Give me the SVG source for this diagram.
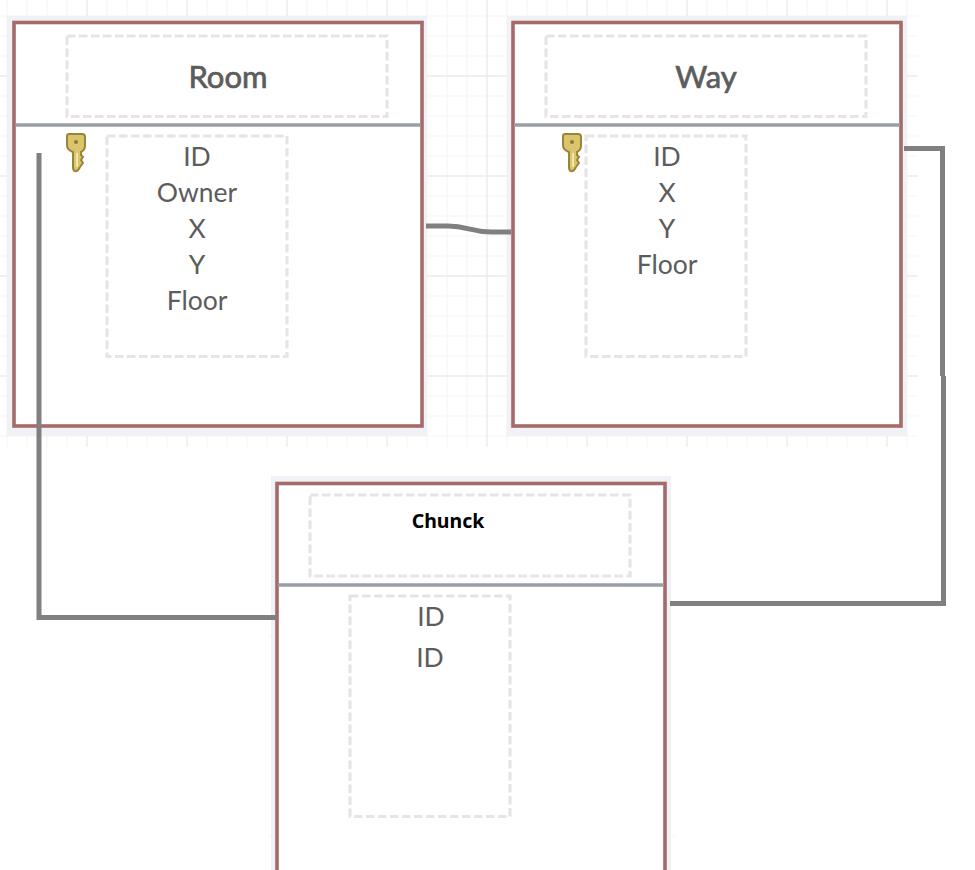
<svg xmlns="http://www.w3.org/2000/svg" width="975" height="870" viewBox="0 0 975 870">
<style>
.minor{fill:none;stroke:#f6f6f6;stroke-width:1.2}
.major{fill:none;stroke:#ebebeb;stroke-width:1.4}
.halo{fill:#f0f2f5}
.box{fill:#fff;stroke:#a56a6a;stroke-width:3.6}
.sep{fill:none;stroke:#999ea5;stroke-width:3.4}
.dash{fill:none;stroke:#e8e4e6;stroke-width:3.2;stroke-dasharray:8.500 3.500}
.t{font-family:Lato,"Open Sans",sans-serif;fill:#5c5c5c;text-anchor:middle}
.title{font-size:31px;stroke:#5c5c5c;stroke-width:.7}
.row{font-size:26.500px}
.conn{fill:none;stroke:#808080;stroke-width:5;stroke-linejoin:miter}
.keyb{fill:#d8c56c;stroke:#9a8438;stroke-width:2}
</style>
<defs>
<g id="key">
<path class="keyb" d="M1 3 Q1 1 3 1 H16 Q19 1 19 4 V13 Q19 17 15 19 V22 L17 24 L15 27 L17 30 L14 34 Q12 39 9 38 Q7 38 7 34 V19 Q1 17 1 12 Z"/>
<circle cx="10" cy="9" r="2" fill="#8f7a35"/>
<path d="M11 20 V34" stroke="#f3e7a8" stroke-width="2" fill="none"/>
</g>
</defs>
<rect width="975" height="870" fill="#fff"/>
<g id="grid">
<path class="minor" d="M7 0V447M27 0V447M47 0V447M67 0V447M107 0V447M127 0V447M147 0V447M167 0V447M207 0V447M227 0V447M247 0V447M267 0V447M307 0V447M327 0V447M347 0V447M367 0V447M407 0V447M427 0V447M447 0V447M467 0V447M507 0V447M527 0V447M547 0V447M567 0V447M607 0V447M627 0V447M647 0V447M667 0V447M707 0V447M727 0V447M747 0V447M767 0V447M807 0V447M827 0V447M847 0V447M867 0V447M907 0V447M0 16H918M0 36H918M0 56H918M0 96H918M0 116H918M0 136H918M0 156H918M0 196H918M0 216H918M0 236H918M0 256H918M0 296H918M0 316H918M0 336H918M0 356H918M0 396H918M0 416H918M0 436H918"/>
<path class="major" d="M87 0V447M187 0V447M287 0V447M387 0V447M487 0V447M587 0V447M687 0V447M787 0V447M887 0V447M0 76H918M0 176H918M0 276H918M0 376H918"/>
<path class="minor" d="M268 536H272M268 576H272M268 636H272M268 656H272M268 736H272M268 776H272M268 836H272M671 536H675M671 736H675M671 836H675"/>
</g>
<g id="room">
<rect class="halo" x="7" y="16" width="420" height="420"/>
<rect class="box" x="14" y="22.500" width="408" height="403.500"/>
<path class="sep" d="M15 125H421"/>
<rect class="dash" x="67" y="36" width="320" height="80.500"/>
<rect class="dash" x="107" y="136" width="180" height="220.500"/>
<use href="#key" x="66" y="133"/>
<text class="t title" x="228" y="88">Room</text>
<text class="t row" x="197" y="166">ID</text>
<text class="t row" x="197" y="202">Owner</text>
<text class="t row" x="197" y="238">X</text>
<text class="t row" x="197" y="274">Y</text>
<text class="t row" x="197" y="310">Floor</text>
</g>
<g id="way">
<rect class="halo" x="507" y="16" width="400" height="420"/>
<rect class="box" x="513" y="22.500" width="388" height="403.500"/>
<path class="sep" d="M514 125H900"/>
<rect class="dash" x="546" y="36" width="320" height="80.500"/>
<rect class="dash" x="586" y="136" width="160" height="220.500"/>
<use href="#key" x="562" y="133"/>
<text class="t title" x="706" y="88">Way</text>
<text class="t row" x="667" y="166">ID</text>
<text class="t row" x="667" y="202">X</text>
<text class="t row" x="667" y="238">Y</text>
<text class="t row" x="667" y="274">Floor</text>
</g>
<g id="chunck">
<rect class="halo" x="271" y="476" width="400" height="394"/>
<rect class="box" x="277" y="483.500" width="388" height="400"/>
<path class="sep" d="M278 585H664"/>
<rect class="dash" x="310" y="495" width="320" height="81"/>
<rect class="dash" x="350" y="596" width="160" height="220.500"/>
<text x="448" y="528" font-family="'Noto Sans','Open Sans',sans-serif" font-size="19.500" font-weight="700" fill="#000" text-anchor="middle">Chunck</text>
<text class="t row" x="431" y="626">ID</text>
<text class="t row" x="430" y="667">ID</text>
</g>
<g id="connectors">
<path class="conn" d="M39 153V617.500H277"/>
<path class="conn" d="M426 226H448C468 226 470 232 492 232H511"/>
<path class="conn" d="M904 148.500H942.500V376"/>
<path class="conn" d="M943.500 376V603.500H670"/>
</g>
</svg>
